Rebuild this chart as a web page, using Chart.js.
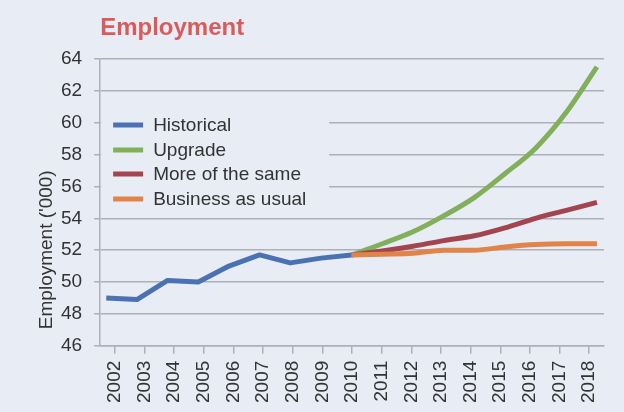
<!DOCTYPE html>
<html>
<head>
<meta charset="utf-8">
<title>Employment</title>
<script src="https://cdn.jsdelivr.net/npm/chart.js@4.4.1/dist/chart.umd.min.js"></script>
<style>
    html, body { margin: 0; padding: 0; background: #e8ecf5; }
    #wrap { width: 624px; height: 412px; }
</style>
</head>
<body>
<div id="wrap"><canvas id="EmploymentChart" width="624" height="412"></canvas></div>
<script>
// employment in thousands, actuals then three scenarios from 2010
const years = ['2002', '2003', '2004', '2005', '2006', '2007', '2008', '2009', '2010',
               '2011', '2012', '2013', '2014', '2015', '2016', '2017', '2018'];
const historicalYears = [2002, 2003, 2004, 2005, 2006, 2007, 2008, 2009, 2010];
const historical = [49.0, 48.9, 50.1, 50.0, 51.0, 51.7, 51.2, 51.5, 51.7];
const projectionYears = [2010, 2011, 2012, 2013, 2014, 2015, 2016, 2017, 2018];
const upgrade = [51.7, 52.4, 53.15, 54.15, 55.3, 56.8, 58.4, 60.65, 63.5];
const moreOfTheSame = [51.7, 51.95, 52.25, 52.6, 52.9, 53.4, 54.0, 54.5, 55.0];
const businessAsUsual = [51.7, 51.75, 51.8, 52.0, 52.0, 52.2, 52.35, 52.4, 52.4];
const yTicks = [46, 48, 50, 52, 54, 56, 58, 60, 62, 64];

const bg = '#e8ecf5';
const gridColor = '#adb0b7';
const textColor = '#333333';
const fontFamily = "'Liberation Sans', Arial, sans-serif";

function toPoints(xs, ys) {
    return xs.map(function (x, i) { return { x: x, y: ys[i] }; });
}

// title, y axis title and the boxed legend inside the plot
const decorations = {
    id: 'decorations',
    beforeDatasetsDraw: function (chart) {
        const ctx = chart.ctx;
        const area = chart.chartArea;
        ctx.save();
        // legend box hides the grid behind it
        ctx.fillStyle = bg;
        ctx.fillRect(area.left + 1, area.top + 47, 228, 108);
        ctx.font = '19px ' + fontFamily;
        ctx.textBaseline = 'middle';
        ctx.textAlign = 'left';
        const rows = [66, 91, 115, 140];
        chart.data.datasets.forEach(function (ds, i) {
            const y = area.top + rows[i];
            ctx.strokeStyle = ds.borderColor;
            ctx.lineWidth = 5;
            ctx.beginPath();
            ctx.moveTo(area.left + 13, y);
            ctx.lineTo(area.left + 43, y);
            ctx.stroke();
            ctx.fillStyle = textColor;
            ctx.fillText(ds.label, area.left + 53, y + 1);
        });
        ctx.restore();
    },
    afterDraw: function (chart) {
        const ctx = chart.ctx;
        const area = chart.chartArea;
        ctx.save();
        ctx.fillStyle = '#d95c5c';
        ctx.font = 'bold 24px ' + fontFamily;
        ctx.textAlign = 'left';
        ctx.textBaseline = 'alphabetic';
        ctx.fillText('Employment', area.left, 35);

        ctx.translate(47, area.bottom - 96);
        ctx.rotate(-Math.PI / 2);
        ctx.fillStyle = textColor;
        ctx.font = '19px ' + fontFamily;
        ctx.textAlign = 'center';
        ctx.textBaseline = 'middle';
        ctx.fillText("Employment ('000)", 0, 0);
        ctx.restore();
    }
};

window.onload = function () {
    const ctx = document.getElementById('EmploymentChart').getContext('2d');

    const lineStyle = {
        borderWidth: 5,
        pointRadius: 0,
        fill: false,
        borderCapStyle: 'butt',
        borderJoinStyle: 'round'
    };

    new Chart(ctx, {
        type: 'line',
        data: {
            datasets: [
                Object.assign({
                    label: 'Historical',
                    data: toPoints(historicalYears, historical),
                    borderColor: '#4a72b2',
                    tension: 0,
                    order: 3
                }, lineStyle),
                Object.assign({
                    label: 'Upgrade',
                    data: toPoints(projectionYears, upgrade),
                    borderColor: '#82b05a',
                    cubicInterpolationMode: 'monotone',
                    order: 2
                }, lineStyle),
                Object.assign({
                    label: 'More of the same',
                    data: toPoints(projectionYears, moreOfTheSame),
                    borderColor: '#a3454e',
                    cubicInterpolationMode: 'monotone',
                    order: 1
                }, lineStyle),
                Object.assign({
                    label: 'Business as usual',
                    data: toPoints(projectionYears, businessAsUsual),
                    borderColor: '#e0844a',
                    cubicInterpolationMode: 'monotone',
                    order: 0
                }, lineStyle)
            ]
        },
        options: {
            responsive: false,
            animation: false,
            layout: {
                padding: { top: 59, right: 20, bottom: 2, left: 49 }
            },
            plugins: {
                legend: { display: false },
                title: { display: false },
                tooltip: { enabled: false }
            },
            scales: {
                x: {
                    type: 'linear',
                    min: 2001.8,
                    max: 2018.23,
                    display: false
                },
                years: {
                    type: 'category',
                    axis: 'x',
                    position: 'bottom',
                    labels: years,
                    offset: true,
                    grid: {
                        offset: false,
                        drawOnChartArea: false,
                        tickLength: 8,
                        color: gridColor,
                        lineWidth: 1.5
                    },
                    border: { color: gridColor, width: 1.5 },
                    ticks: {
                        minRotation: 90,
                        maxRotation: 90,
                        autoSkip: false,
                        padding: 7,
                        color: textColor,
                        font: { family: fontFamily, size: 19 }
                    }
                },
                y: {
                    min: 46,
                    max: 64,
                    afterBuildTicks: function (scale) {
                        scale.ticks = yTicks.map(function (v) { return { value: v }; });
                    },
                    grid: {
                        color: gridColor,
                        lineWidth: 1.5,
                        tickLength: 6
                    },
                    border: { color: gridColor, width: 1.5 },
                    ticks: {
                        padding: 12,
                        color: textColor,
                        font: { family: fontFamily, size: 19 }
                    }
                }
            }
        },
        plugins: [decorations]
    });
};
</script>
</body>
</html>
